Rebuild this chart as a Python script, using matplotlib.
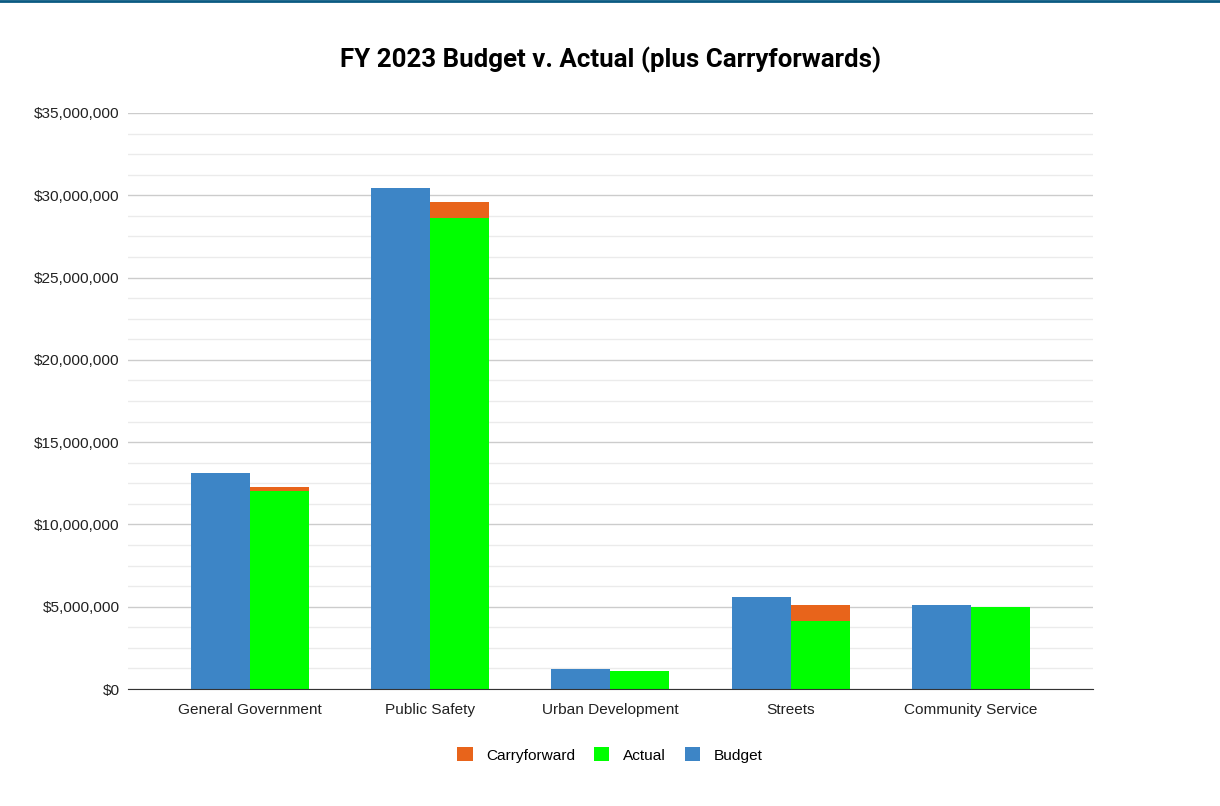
import numpy as np
import matplotlib.pyplot as plt
from matplotlib.lines import Line2D
from matplotlib.ticker import FuncFormatter, MultipleLocator

plt.rcParams['font.family'] = ['Liberation Sans', 'DejaVu Sans']

categories = ["General Government", "Public Safety", "Urban Development", "Streets", "Community Service"]
budget = [13100000, 30460000, 1220000, 5570000, 5100000]
actual = [12030000, 28600000, 1110000, 4130000, 4960000]
carryforward = [270000, 970000, 0, 970000, 0]

c_blue = "#3d85c6"
c_green = "#00ff00"
c_orange = "#e8641b"

fig = plt.figure(figsize=(12.2, 8.06), dpi=100)
ax = fig.add_axes([128/1220, 1 - 689/806, (1093-128)/1220, (689-113)/806])

x = np.arange(len(categories))
w = 0.327
ax.bar(x - w/2, budget, w, color=c_blue, label="Budget", zorder=3)
ax.bar(x + w/2, actual, w, color=c_green, label="Actual", zorder=3)
ax.bar(x + w/2, carryforward, w, bottom=actual, color=c_orange, label="Carryforward", zorder=3)

ax.set_xlim(-0.675, 4.677)
ax.set_ylim(0, 35000000)
ax.yaxis.set_major_locator(MultipleLocator(5000000))
ax.yaxis.set_minor_locator(MultipleLocator(1250000))
ax.yaxis.set_major_formatter(FuncFormatter(lambda v, p: f"${v:,.0f}"))
ax.grid(axis='y', which='major', color='#cccccc', linewidth=1, zorder=0)
ax.grid(axis='y', which='minor', color='#ebebeb', linewidth=1, zorder=0)
ax.set_axisbelow(True)
for s in ['top', 'right', 'left']:
    ax.spines[s].set_visible(False)
ax.spines['bottom'].set_color('#333333')
ax.spines['bottom'].set_zorder(4)
ax.tick_params(axis='y', which='both', length=0, labelsize=11.1, colors='#222222', pad=6)
ax.tick_params(axis='x', length=0, labelsize=11.1, colors='#222222', pad=10)
ax.set_xticks(x)
ax.set_xticklabels(categories)

fig.text(0.5, 1 - 60/806, "FY 2023 Budget v. Actual (plus Carryforwards)", ha='center', va='center',
         fontsize=18.6, fontweight='bold', color='#000000', family=['Roboto', 'DejaVu Sans'])

handles, labels = ax.get_legend_handles_labels()
order = [2, 1, 0]
fig.legend([handles[i] for i in order], [labels[i] for i in order], loc='center',
           bbox_to_anchor=(0.5, 1 - 755/806), ncol=3, frameon=False, fontsize=11.1,
           handlelength=1.0, handleheight=1.0, handletextpad=0.9, columnspacing=1.2)

fig.add_artist(Line2D([0, 1], [1 - 1/806, 1 - 1/806], color='#0a5a82', linewidth=2, transform=fig.transFigure))

fig.savefig("out.png", dpi=100)
